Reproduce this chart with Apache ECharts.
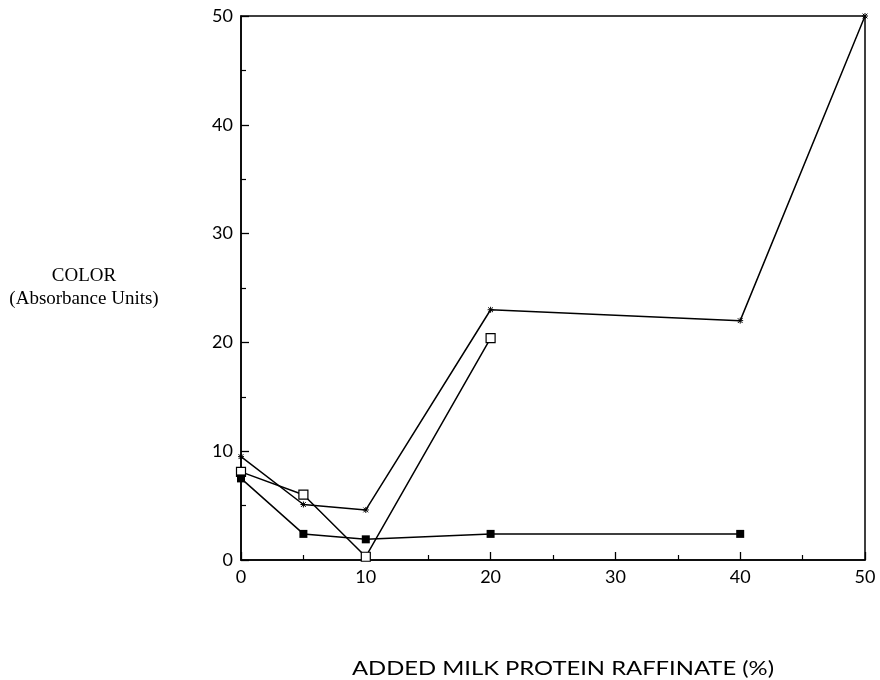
<!DOCTYPE html>
<html><head><meta charset="utf-8">
<script src="https://cdn.jsdelivr.net/npm/echarts@6/dist/echarts.min.js"></script>
<style>html,body{margin:0;padding:0;background:#fff}#c{width:880px;height:680px}</style>
</head><body><div id="c"></div>
<script>
const starX = [0, 5, 10, 20, 40, 50];
const starY = [9.5, 5.1, 4.6, 23, 22, 50];
const openX = [0, 5, 10, 20];
const openY = [8.1, 6.0, 0.3, 20.4];
const filledX = [0, 5, 10, 20, 40];
const filledY = [7.5, 2.4, 1.9, 2.4, 2.4];
const xTitle = 'ADDED MILK PROTEIN RAFFINATE (%)';
const yTitle = 'COLOR\n(Absorbance Units)';

const pairs = (xs, ys) => xs.map((x, i) => [x, ys[i]]);
const chart = echarts.init(document.getElementById('c'));
const serif = 'Liberation Serif';
const labelFont = 'Lato';
const axisCommon = {
  min: 0, max: 50, interval: 10,
  axisLine: {show: true, lineStyle: {color: '#000', width: 1.5}},
  axisTick: {show: true, inside: true, length: 8, lineStyle: {color: '#000', width: 1.3}},
  minorTick: {show: true, splitNumber: 2, length: 5, lineStyle: {color: '#000', width: 1.2}},
  splitLine: {show: false},
  axisLabel: {color: '#000', fontFamily: labelFont, fontSize: 18, margin: 8}
};
chart.setOption({
  animation: false,
  backgroundColor: '#fff',
  grid: {left: 241, right: 15, top: 16, bottom: 120, show: true, borderColor: '#000', borderWidth: 1.5},
  xAxis: Object.assign({type: 'value'}, axisCommon),
  yAxis: Object.assign({type: 'value'}, axisCommon),
  graphic: [
    {type: 'text', x: 563, y: 659, scaleX: 1.19, style: {text: xTitle, fontFamily: labelFont, fontSize: 20, fill: '#000', align: 'center'}},
    {type: 'text', x: 84, y: 265, style: {text: yTitle, fontFamily: serif, fontSize: 19, fill: '#000', align: 'center', lineHeight: 23}}
  ],
  series: [
    {type: 'line', data: pairs(starX, starY), symbol: 'path://M0,-5L0,5M-5,0L5,0M-4,-4L4,4M-4,4L4,-4', symbolSize: 6,
     itemStyle: {color: '#000', borderColor: '#000', borderWidth: 1}, lineStyle: {color: '#000', width: 1.5}},
    {type: 'line', data: pairs(openX, openY), symbol: 'rect', symbolSize: 9,
     itemStyle: {color: '#fff', borderColor: '#000', borderWidth: 1.2}, lineStyle: {color: '#000', width: 1.5}, z: 3},
    {type: 'line', data: pairs(filledX, filledY), symbol: 'rect', symbolSize: 8,
     itemStyle: {color: '#000'}, lineStyle: {color: '#000', width: 1.5}}
  ]
});
</script></body></html>
